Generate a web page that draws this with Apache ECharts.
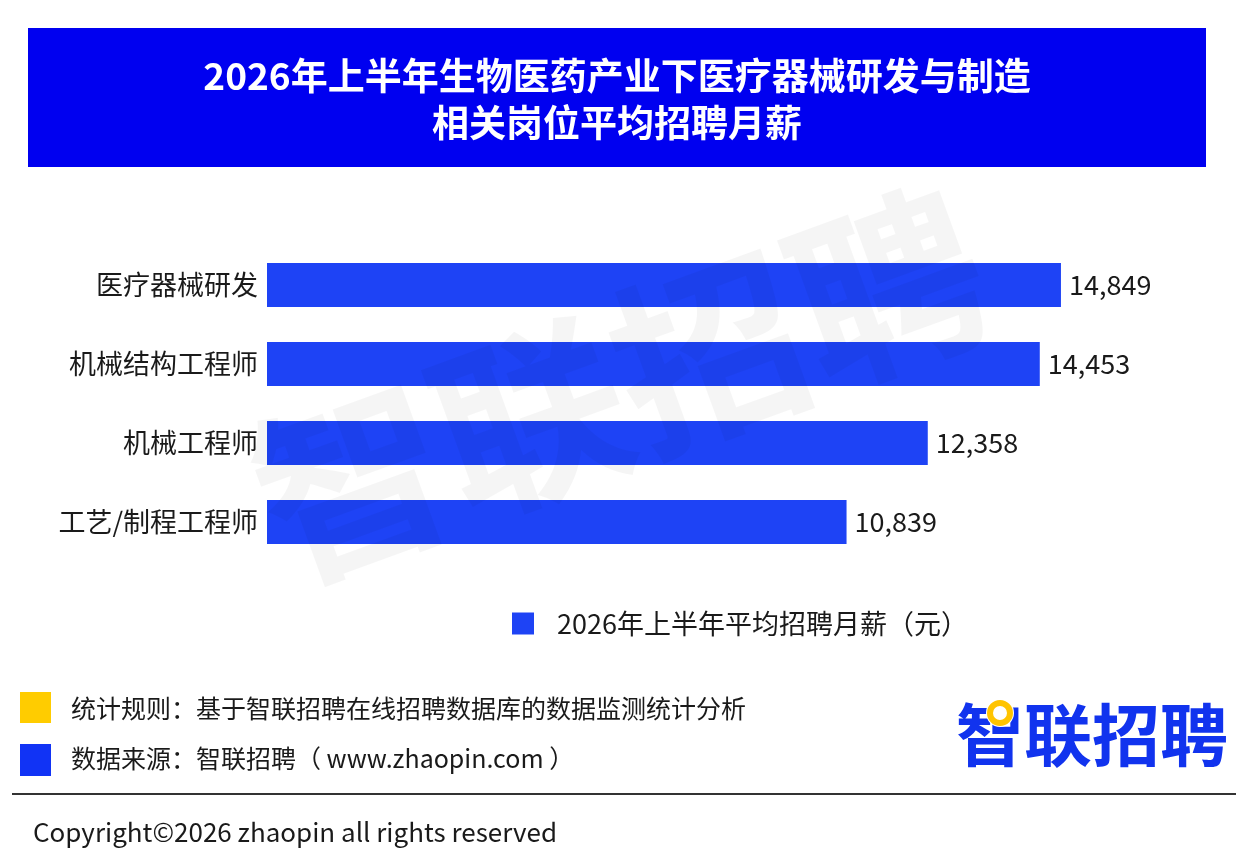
<!DOCTYPE html>
<html><head><meta charset="utf-8">
<script src="https://cdn.jsdelivr.net/npm/echarts@6/dist/echarts.min.js"></script>
<style>html,body{margin:0;padding:0;background:#fff}#c{width:1249px;height:858px}</style>
</head><body><div id="c"></div>
<script>
const categories = ['医疗器械研发','机械结构工程师','机械工程师','工艺/制程工程师'];
const values = [14849, 14453, 12358, 10839];
const seriesName = '2026年上半年平均招聘月薪（元）';
const titleText = '2026年上半年生物医药产业下医疗器械研发与制造\n相关岗位平均招聘月薪';
const ruleText = '统计规则：基于智联招聘在线招聘数据库的数据监测统计分析';
const sourceText = '数据来源：智联招聘（ www.zhaopin.com ）';
const copyText = 'Copyright©2026 zhaopin all rights reserved';

const FONT = '"Noto Sans CJK SC","Noto Sans",sans-serif';
const chart = echarts.init(document.getElementById('c'));
chart.setOption({
  backgroundColor:'#fff',
  animation:false,
  textStyle:{fontFamily:FONT},
  grid:{left:267, top:245.5, width:855.5, height:316, containLabel:false},
  xAxis:{type:'value', min:0, max:16000, show:false},
  yAxis:{type:'category', data:categories, inverse:true,
    axisLine:{show:false}, axisTick:{show:false},
    axisLabel:{fontSize:27, color:'#1a1a1a', margin:9, fontFamily:FONT}},
  legend:{data:[seriesName], left:507, top:605, itemWidth:22, itemHeight:22, icon:'rect',
    textStyle:{fontSize:27, color:'#1a1a1a', fontFamily:FONT, padding:[0,0,0,18]}},
  series:[{type:'bar', name:seriesName, data:values, barCategoryGap:'44%',
    itemStyle:{color:'#1e43f5'},
    label:{show:true, position:'right', distance:8, fontSize:27, color:'#1a1a1a', fontFamily:FONT,
      formatter:p=>p.value.toLocaleString('en-US')}}],
  graphic:[
    {type:'rect', shape:{x:28,y:28,width:1178,height:139}, style:{fill:'#0000f0'}, z:1},
    {type:'text', x:617, y:99, z:2, style:{text:titleText, fill:'#fff', font:'bold 37px '+FONT,
      align:'center', verticalAlign:'middle', lineHeight:47}},
    {type:'text', x:620, y:385, rotation:20*Math.PI/180, z:100, silent:true,
      style:{text:'智联招聘', fill:'rgba(0,0,0,0.038)', font:'bold 190px '+FONT, align:'center', verticalAlign:'middle'}},
    {type:'rect', shape:{x:20,y:692,width:31,height:31}, style:{fill:'#ffcc00'}},
    {type:'text', x:71, y:708, style:{text:ruleText, fill:'#1a1a1a', font:'25px '+FONT, verticalAlign:'middle'}},
    {type:'rect', shape:{x:20,y:744,width:31,height:32}, style:{fill:'#1133f5'}},
    {type:'text', x:71, y:758, style:{text:sourceText, fill:'#1a1a1a', font:'25px '+FONT, verticalAlign:'middle'}},
    {type:'text', x:1228, y:735, z:5, style:{text:'智联招聘', fill:'#1133ee', font:'bold 68px '+FONT, align:'right', verticalAlign:'middle'}},
    {type:'circle', z:6, shape:{cx:1000, cy:713, r:14}, style:{fill:'#fff'}},
    {type:'circle', z:7, shape:{cx:1000, cy:713, r:10}, style:{fill:'none', stroke:'#ffc400', lineWidth:6}},
    {type:'line', shape:{x1:12,y1:794,x2:1236,y2:794}, style:{stroke:'#333', lineWidth:2}},
    {type:'text', x:33, y:832, style:{text:copyText, fill:'#1a1a1a', font:'26px '+FONT, verticalAlign:'middle'}}
  ]
});
</script></body></html>
